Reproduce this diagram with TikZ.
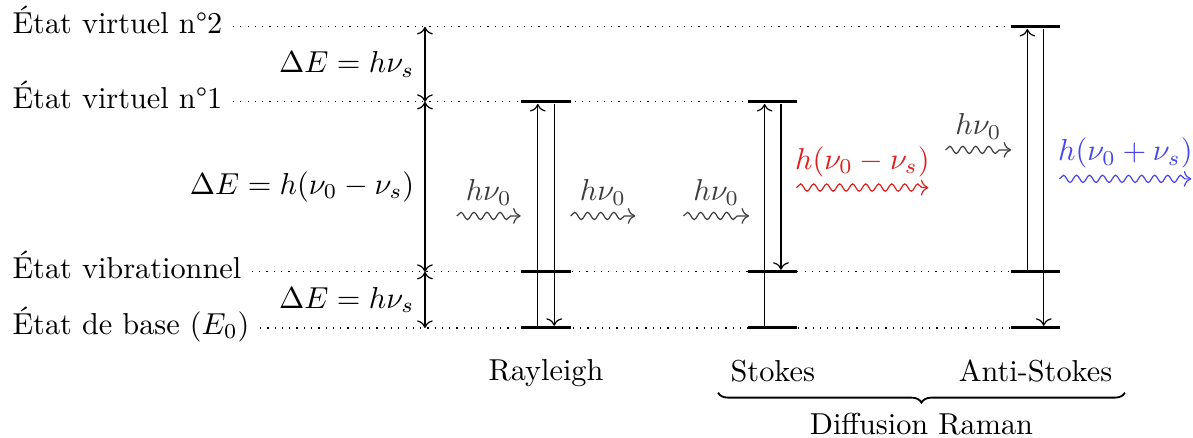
\documentclass[tikz,border=0pt]{standalone}
\usepackage{amsmath,amssymb}
\usepackage{xcolor}
\usepackage{tikz}
\usetikzlibrary{arrows.meta,positioning,calc,decorations.pathreplacing,decorations.pathmorphing}
\definecolor{stokesred}{RGB}{225,30,30}
\definecolor{antiblue}{RGB}{70,70,240}
\definecolor{photon}{RGB}{60,60,60}

\begin{document}
\begin{tikzpicture}[
  lvl/.style={anchor=mid west},
  bar/.style={fill=black,inner sep=0pt,minimum width=0.57cm,minimum height=1pt},
  wave/.style={->,decorate,decoration={snake,amplitude=1.2pt,segment length=4.3pt,post length=2pt}},
  photonlbl/.style={above,text=photon}
]
  \useasboundingbox (0,0) rectangle (13.84,5.08);

  % niveaux d'energie
  \node[lvl] (lv-two) at (0.022,4.768) {État virtuel n°2};
  \node[lvl] (lv-one) at (0.022,3.898) {État virtuel n°1};
  \node[lvl] (lv-vib) at (0.022,1.926) {État vibrationnel};
  \node[lvl] (lv-base) at (0.022,1.276) {État de base ($E_0$)};

  \foreach \lv/\y in {base/1.276,vib/1.926,one/3.898}{
    \node[bar] (ray-\lv) at (6.334,\y) {};
    \node[bar] (sto-\lv) at (8.965,\y) {};
  }
  \foreach \lv/\y in {base/1.276,vib/1.926,two/4.768}
    \node[bar] (ant-\lv) at (12.013,\y) {};

  \draw[dotted] (lv-two.mid east) -- (ant-two.west);
  \draw[dotted] (lv-one.mid east) -- (sto-one.west);
  \draw[dotted] (lv-vib.mid east) -- (ant-vib.west);
  \draw[dotted] (lv-base.mid east) -- (ant-base.west);

  % ecarts
  \foreach \lv/\y in {base/1.276,vib/1.926,one/3.898,two/4.768}
    \coordinate (de-\lv) at (4.93,\y);
  \draw[<->] (de-base) -- node[left]{$\Delta E = h\nu_s$} (de-vib);
  \draw[<->] (de-vib) -- node[left]{$\Delta E = h(\nu_0-\nu_s)$} (de-one);
  \draw[<->] (de-one) -- node[left]{$\Delta E = h\nu_s$} (de-two);

  % transitions
  \draw[->] ([xshift=-0.095cm]ray-base.north) -- ([xshift=-0.095cm]ray-one.south);
  \draw[->] ([xshift=0.095cm]ray-one.south) -- ([xshift=0.095cm]ray-base.north);
  \draw[->] ([xshift=-0.095cm]sto-base.north) -- ([xshift=-0.095cm]sto-one.south);
  \draw[->] ([xshift=0.095cm]sto-one.south) -- ([xshift=0.095cm]sto-vib.north);
  \draw[->] ([xshift=-0.095cm]ant-vib.north) -- ([xshift=-0.095cm]ant-two.south);
  \draw[->] ([xshift=0.095cm]ant-two.south) -- ([xshift=0.095cm]ant-base.north);

  % photons
  \foreach \nm/\xa/\xb/\y in {rin/5.30/6.04/2.575,rout/6.62/7.37/2.575,sin/7.93/8.69/2.575,
                              sout/9.24/10.77/2.904,ain/10.97/11.73/3.341,aout/12.29/13.82/3.005}{
    \coordinate (\nm-a) at (\xa,\y);
    \coordinate (\nm-b) at (\xb,\y);
  }
  \draw[wave,photon] (rin-a) -- node[photonlbl]{$h\nu_0$} (rin-b);
  \draw[wave,photon] (rout-a) -- node[photonlbl]{$h\nu_0$} (rout-b);
  \draw[wave,photon] (sin-a) -- node[photonlbl]{$h\nu_0$} (sin-b);
  \draw[wave,stokesred] (sout-a) -- node[above]{$h(\nu_0-\nu_s)$} (sout-b);
  \draw[wave,photon] (ain-a) -- node[photonlbl]{$h\nu_0$} (ain-b);
  \draw[wave,antiblue] (aout-a) -- node[above]{$h(\nu_0+\nu_s)$} (aout-b);

  % noms
  \node[below=0.22cm of ray-base] (ray-lbl) {Rayleigh};
  \node[below=0.22cm of sto-base] (sto-lbl) {Stokes};
  \node[below=0.22cm of ant-base] (ant-lbl) {Anti-Stokes};

  \coordinate (br-l) at (8.33,0.525);
  \coordinate (br-r) at (13.05,0.525);
  \draw[semithick,decorate,decoration={brace,mirror,amplitude=3.3pt}] (br-l) -- node[below=3pt] (raman) {Diffusion Raman} (br-r);
\end{tikzpicture}
\end{document}
